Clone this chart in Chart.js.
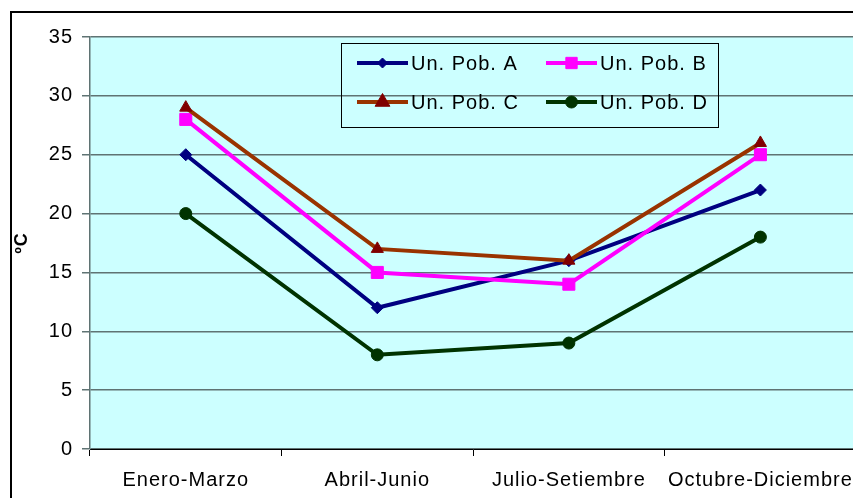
<!DOCTYPE html>
<html>
<head>
<meta charset="utf-8">
<script src="https://cdn.jsdelivr.net/npm/chart.js@4.4.1/dist/chart.umd.min.js"></script>
<style>
  html, body { margin: 0; padding: 0; background: #fff; overflow: hidden; }
  #wrap { width: 866px; height: 498px; }
</style>
</head>
<body>
<div id="wrap"><canvas id="chart"></canvas></div>
<script>
const categories = ['Enero-Marzo', 'Abril-Junio', 'Julio-Setiembre', 'Octubre-Diciembre'];
const seriesNames = ['Un. Pob. A', 'Un. Pob. B', 'Un. Pob. C', 'Un. Pob. D'];
const popA = [25, 12, 16, 22];
const popB = [28, 15, 14, 25];
const popC = [29, 17, 16, 26];
const popD = [20, 8, 9, 18];
const yTicks = [0, 5, 10, 15, 20, 25, 30, 35];

const FONT = 'Liberation Sans, Arial, sans-serif';

// the original text is drawn a bit wider than Arial
const wideText = {
    id: 'wideText',
    beforeUpdate(chart) { chart.ctx.letterSpacing = '1px'; },
    beforeDraw(chart) { chart.ctx.letterSpacing = '1px'; }
};

// background of plot area + outer frame
const frame = {
    id: 'frame',
    beforeDraw(chart) {
        const {ctx, chartArea: a} = chart;
        ctx.save();
        ctx.fillStyle = '#ccffff';
        ctx.fillRect(a.left, a.top, a.right - a.left, a.bottom - a.top);
        ctx.strokeStyle = '#000';
        ctx.lineWidth = 2;
        ctx.beginPath();
        ctx.moveTo(11, chart.height + 5);
        ctx.lineTo(11, 12);
        ctx.lineTo(chart.width + 5, 12);
        ctx.stroke();
        ctx.restore();
    }
};

// legend box inside the plot, two columns
const legendMarkers = [5, 8, 8.5, 6];
const boxLegend = {
    id: 'boxLegend',
    afterDatasetsDraw(chart) {
        const {ctx, chartArea: a} = chart;
        const x0 = a.left + 251, y0 = a.top + 6;
        ctx.save();
        ctx.strokeStyle = '#000';
        ctx.lineWidth = 1;
        ctx.strokeRect(x0 + 0.5, y0 + 0.5, 377, 84);
        ctx.font = '20px ' + FONT;
        ctx.textBaseline = 'middle';
        chart.data.datasets.forEach((ds, i) => {
            const lx = x0 + 16 + (i % 2) * 189;
            const ly = y0 + 20 + Math.floor(i / 2) * 39;
            ctx.strokeStyle = ds.borderColor;
            ctx.lineWidth = 4;
            ctx.beginPath();
            ctx.moveTo(lx, ly);
            ctx.lineTo(lx + 51, ly);
            ctx.stroke();
            ctx.fillStyle = ds.pointBackgroundColor;
            ctx.strokeStyle = ds.pointBorderColor;
            ctx.lineWidth = 1;
            Chart.helpers.drawPoint(ctx, {
                pointStyle: ds.pointStyle,
                radius: legendMarkers[i],
                borderWidth: 1
            }, lx + 25.5, ly);
            ctx.fillStyle = '#000';
            ctx.fillText(ds.label, lx + 54, ly + 1);
        });
        ctx.restore();
    }
};

function makeSet(label, data, line, marker, style, radius, order) {
    return {
        label: label,
        data: data,
        borderColor: line,
        borderWidth: 4,
        pointStyle: style,
        pointRadius: radius,
        pointHoverRadius: radius,
        pointBackgroundColor: marker,
        pointBorderColor: marker,
        pointBorderWidth: 1,
        tension: 0,
        fill: false,
        order: order
    };
}

new Chart(document.getElementById('chart'), {
    type: 'line',
    data: {
        labels: categories,
        datasets: [
            makeSet(seriesNames[0], popA, '#000080', '#000080', 'rectRot', 6, 4),
            makeSet(seriesNames[1], popB, '#ff00ff', '#ff00ff', 'rect', 8.5, 3),
            makeSet(seriesNames[2], popC, '#993300', '#800000', 'triangle', 7, 2),
            makeSet(seriesNames[3], popD, '#003300', '#003300', 'circle', 6, 1)
        ]
    },
    options: {
        responsive: true,
        maintainAspectRatio: false,
        animation: false,
        layout: { padding: { left: 0, top: 37, right: 6, bottom: 0 } },
        scales: {
            x: {
                offset: true,
                grid: {
                    offset: true,
                    drawOnChartArea: false,
                    drawTicks: true,
                    tickLength: 7,
                    color: '#000'
                },
                border: { color: '#000', width: 1 },
                ticks: {
                    autoSkip: false,
                    maxRotation: 0,
                    minRotation: 0,
                    padding: 12,
                    color: '#000',
                    font: { family: FONT, size: 20 }
                },
                afterFit(scale) { scale.height = 49; }
            },
            y: {
                min: 0,
                max: 35,
                afterBuildTicks(scale) { scale.ticks = yTicks.map(v => ({ value: v })); },
                grid: {
                    color: '#5f7373',
                    lineWidth: 1.5,
                    tickLength: 8
                },
                border: { color: '#5f7373', width: 1.5 },
                ticks: {
                    padding: 9,
                    color: '#000',
                    font: { family: FONT, size: 20 }
                },
                title: {
                    display: true,
                    text: 'ºC',
                    color: '#000',
                    padding: { top: 11, bottom: 0 },
                    font: { family: FONT, size: 18, weight: 'bold' }
                },
                afterFit(scale) { scale.width = 90; }
            }
        },
        plugins: {
            legend: { display: false },
            tooltip: { enabled: false }
        }
    },
    plugins: [wideText, frame, boxLegend]
});
</script>
</body>
</html>
